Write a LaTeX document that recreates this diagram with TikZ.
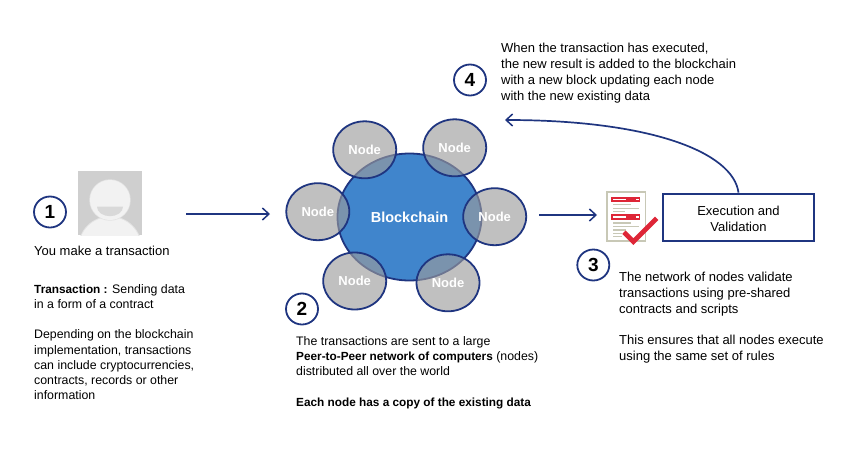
\documentclass[tikz,border=0pt]{standalone}
\usepackage{fontspec}
\setmainfont{Liberation Sans}
\usetikzlibrary{shapes.geometric,arrows.meta}
\definecolor{navy}{HTML}{1F3580}
\definecolor{chainblue}{HTML}{4085CC}
\definecolor{iconred}{HTML}{DE2637}
\definecolor{icongrey}{HTML}{C8C8B6}
\tikzset{
  peer/.style={ellipse,draw=navy,line width=1.8pt,fill=black!39,fill opacity=.63,text opacity=1,text=white,minimum width=63pt,minimum height=57pt,inner sep=0pt,font=\fontsize{13}{13}\selectfont\bfseries},
  chain/.style={ellipse,draw=navy,line width=1.8pt,fill=chainblue,text=white,minimum width=144pt,minimum height=127pt,inner sep=0pt,font=\fontsize{14.5}{14.5}\selectfont\bfseries},
  badge/.style={ellipse,draw=navy,line width=1.8pt,fill=white,minimum width=32pt,minimum height=31pt,inner sep=0pt,font=\fontsize{19}{19}\selectfont\bfseries},
  flow/.style={draw=navy,line width=1.7pt,-{Straight Barb[length=6.5pt,width=12pt,line width=1.5pt]}},
  body/.style={anchor=north west,inner sep=0pt,align=left,font=\fontsize{13}{15.8}\selectfont},
  small/.style={anchor=north west,inner sep=0pt,align=left,font=\fontsize{12.35}{15.3}\selectfont},
  exec/.style={draw=navy,line width=2.2pt,fill=white,minimum width=151pt,minimum height=47pt,inner sep=0pt,font=\fontsize{13}{16}\selectfont},
}
\newcommand{\bsmall}[1]{{\fontsize{11.8}{15.3}\selectfont\bfseries #1}}
\begin{document}
\begin{tikzpicture}[x=1pt,y=-1pt]
\useasboundingbox (0,0) rectangle (865,450);
% avatar
\begin{scope}
\clip (78,171) rectangle (142,235);
\fill[black!19] (78,171) rectangle (142,235);
\fill[black!11] (110,248) ellipse (32 and 32);
\fill[black!5] (110,248) ellipse (31 and 31);
\fill[black!11] (110,200) circle (20.7);
\fill[black!5] (110,200) circle (20);
\fill[black!15] (97,206.7) arc[start angle=180,end angle=360,x radius=13,y radius=-9.5] -- cycle;
\end{scope}
% document icon
\draw[draw=icongrey,line width=1.6pt,fill=white] (606.8,191.8) rectangle (645.4,241);
\fill[iconred] (611,196.7) rectangle (640,201.7);
\fill[iconred] (611,214.3) rectangle (640,219.7);
\foreach \yy in {198.6,216.3}{
  \fill[white] (612.7,\yy) rectangle (626,\yy+1.3);
  \fill[white] (636,\yy) rectangle (638.7,\yy+1.3);
}
\foreach \yy/\xx in {204/630.7,207.7/639,211/625,222.3/630.7,225.7/639,229.3/626,232.7/621.7,236/621.7}
  \fill[icongrey] (612.7,\yy) rectangle (\xx,\yy+1.3);
\draw[iconred,line width=4.8pt] (624,232.2) -- (633.3,241.6) -- (656.7,218.3);
% blockchain
\node[chain] (bc) at (409.5,217) {Blockchain};
\node[peer] (n1) at (364.7,149.8) {Node};
\node[peer] (n2) at (454.7,147.8) {Node};
\node[peer] (n3) at (494.7,216.7) {Node};
\node[peer] (n4) at (317.8,211.7) {Node};
\node[peer] (n5) at (354.7,281) {Node};
\node[peer] (n6) at (448,282.8) {Node};
% badges
\node[badge] (b1) at (50,212) {1};
\node[badge] (b2) at (302,309) {2};
\node[badge] (b3) at (593.3,265) {3};
\node[badge] (b4) at (470,80) {4};
% box
\node[exec] (ev) at (738.5,217.2) {\parbox{148pt}{\vspace*{3.5pt}\centering Execution and\\Validation}};
% arrows
\coordinate (a1s) at (186,214);
\coordinate (a1e) at (270,214);
\coordinate (a2s) at (539,215);
\coordinate (a2e) at (597,215);
\coordinate (a3e) at (505,120);
\draw[flow] (a1s) -- (a1e);
\draw[flow] (a2s) -- (a2e);
\draw[flow] (ev.north) .. controls (733,152) and (650,120) .. (a3e);
% text
\node[body] (t1) at (34,246) {You make a transaction};
\node[small] (t2) at (34,284) {\bsmall{Transaction :} Sending data\\in a form of a contract\\[15pt]Depending on the blockchain\\implementation, transactions\\can include cryptocurrencies,\\contracts, records or other\\information};
\node[small] (t3) at (296,336) {The transactions are sent to a large\\\bsmall{Peer-to-Peer network of computers} (nodes)\\distributed all over the world\\[15pt]\bsmall{Each node has a copy of the existing data}};
\node[body] (t4) at (619,272) {The network of nodes validate\\transactions using pre-shared\\contracts and scripts\\[15.8pt]This ensures that all nodes execute\\using the same set of rules};
\node[body] (t5) at (501,43) {When the transaction has executed,\\the new result is added to the blockchain\\with a new block updating each node\\with the new existing data};
\end{tikzpicture}
\end{document}
